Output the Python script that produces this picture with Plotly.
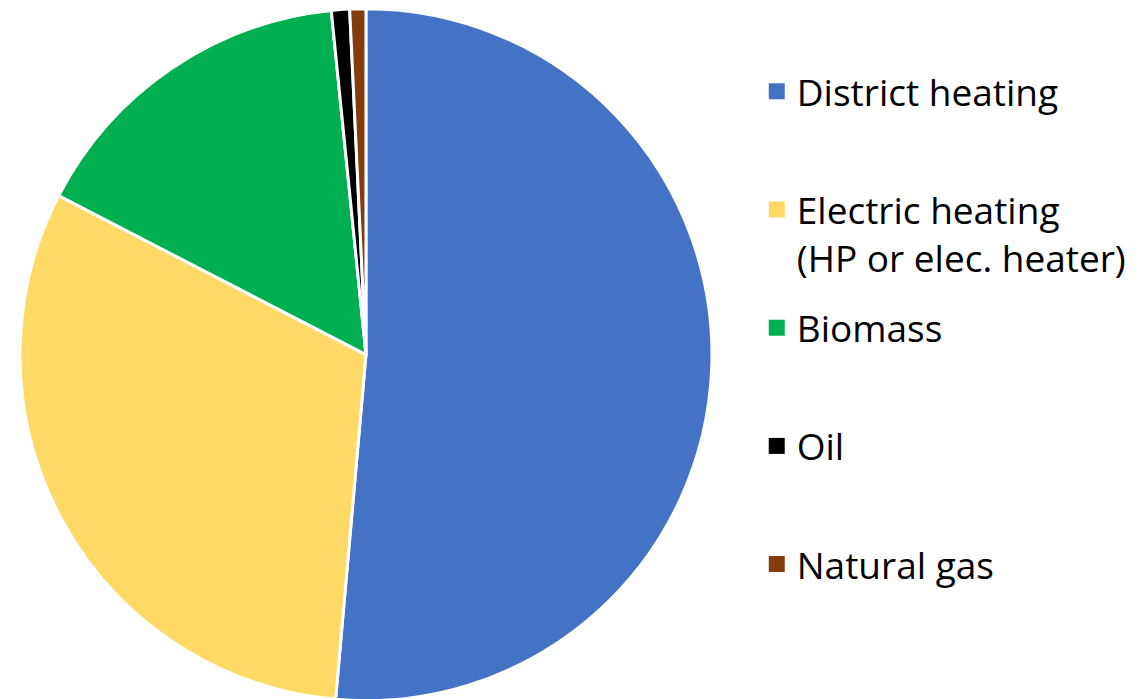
import plotly.graph_objects as go

# Heating system shares (%)
labels = ['District heating', 'Electric heating<br>(HP or elec. heater)', 'Biomass', 'Oil', 'Natural gas']
shares = [51.4, 31.2, 15.8, 0.85, 0.75]
colors = ['#4472C4', '#FFD966', '#00B050', '#000000', '#843C0C']

FONT = 'Open Sans'

fig = go.Figure()

fig.add_trace(go.Pie(
    labels=labels,
    values=shares,
    sort=False,
    direction='clockwise',
    rotation=0,
    marker=dict(colors=colors, line=dict(color='white', width=3)),
    textinfo='none',
    hoverinfo='label+percent',
    showlegend=False,
    domain=dict(x=[0.0105, 0.6175], y=[0.008, 1.0])
))

# legend entries (pie legend symbols are fixed small, so use square markers)
for lab, col in zip(labels, colors):
    text = lab if '<br>' in lab else lab + '<br>\u00a0'
    fig.add_trace(go.Scatter(
        x=[None], y=[None],
        mode='markers',
        name=text,
        legendgroup=lab,
        marker=dict(symbol='square', size=19, color=col, line=dict(width=0)),
        showlegend=True
    ))

fig.update_layout(
    width=1140,
    height=699,
    margin=dict(l=0, r=0, t=0, b=0, autoexpand=False),
    paper_bgcolor='white',
    plot_bgcolor='white',
    xaxis=dict(visible=False),
    yaxis=dict(visible=False),
    font=dict(family=FONT, color='black'),
    legend=dict(
        x=0.6568, y=0.9245,
        xanchor='left', yanchor='top',
        font=dict(family=FONT, size=37, color='black'),
        valign='top',
        tracegroupgap=19,
        bgcolor='rgba(0,0,0,0)',
        itemclick=False,
        itemdoubleclick=False
    ),
    hovermode=False
)

fig.write_html("out.html")
